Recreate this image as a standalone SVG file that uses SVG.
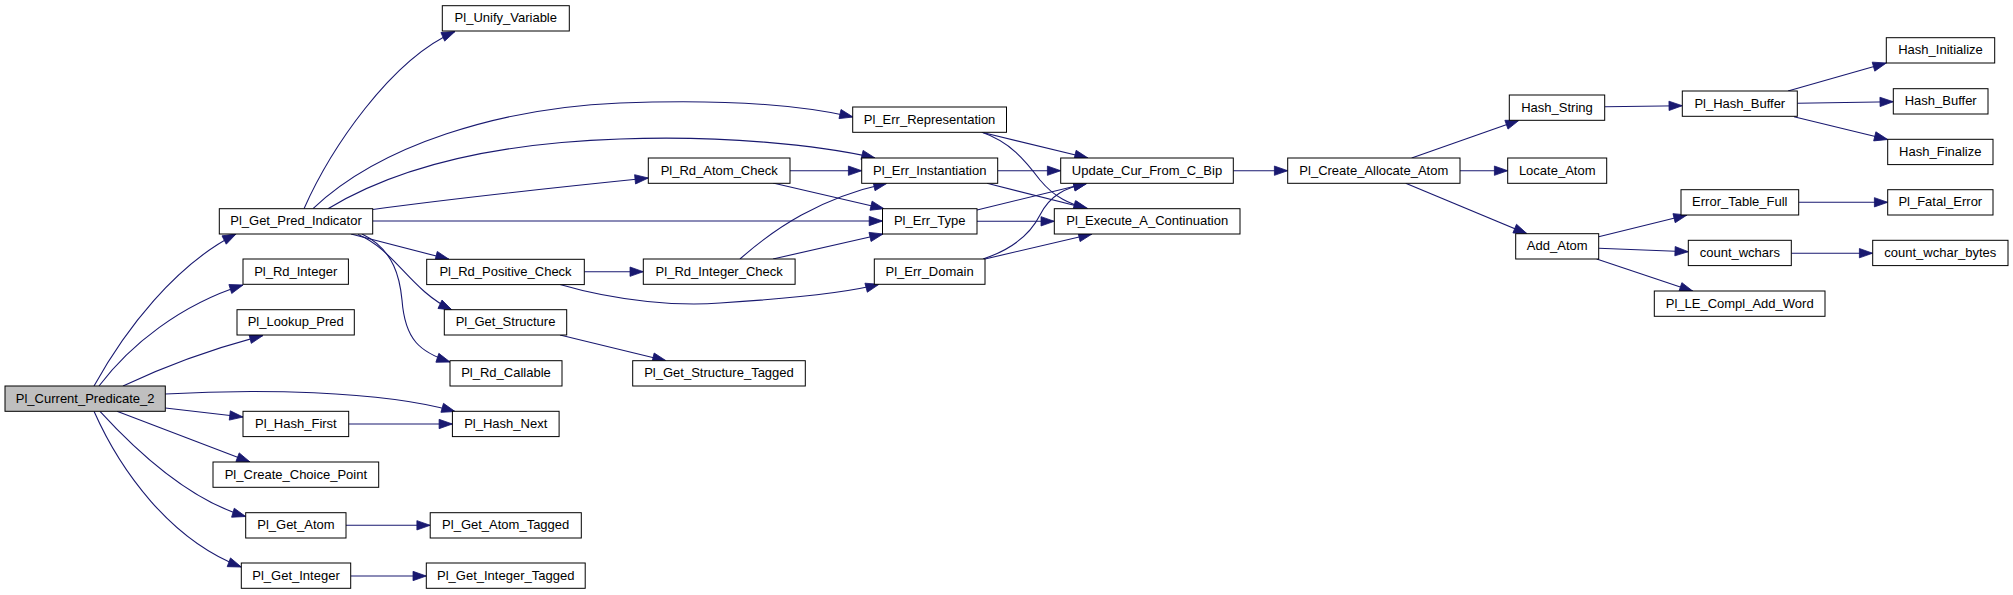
<svg xmlns="http://www.w3.org/2000/svg" width="2013" height="595" viewBox="0 0 2013 595">
<style>
.node rect{fill:#ffffff;stroke:#000000;stroke-width:1}
.node.root rect{fill:#bfbfbf}
.node text{font-family:"Liberation Sans",Arial,Helvetica,sans-serif;font-size:13px;text-anchor:middle;fill:#000000}
.edges path{fill:none;stroke:#191970;stroke-width:1.1;marker-end:url(#arr)}
</style>
<defs>
<marker id="arr" markerUnits="userSpaceOnUse" markerWidth="14" markerHeight="10" viewBox="0 0 14 10" refX="13.3" refY="4.67" orient="auto" overflow="visible">
<path d="M0,0 L13.3,4.67 L0,9.33 z" fill="#191970" stroke="#191970" stroke-width="0.8"/>
</marker>
</defs>
<rect x="0" y="0" width="2013" height="595" fill="#ffffff"/>
<g id="edges" class="edges">
<path d="M94,386 C125,330 175,265 236,234"/>
<path d="M99,386 C130,345 180,305 243,285"/>
<path d="M123,386 C165,366 215,348 263,335.5"/>
<path d="M165.3,394 C250,389 380,390 455,411.5"/>
<path d="M165.3,408 L243,417"/>
<path d="M117,411.3 L250,462"/>
<path d="M100,411.3 C140,455 190,500 245.7,516.5"/>
<path d="M94,411.3 C120,470 170,540 241.3,567"/>
<path d="M304,208.7 C330,150 390,60 455,31.5"/>
<path d="M313,208.7 C380,145 500,108 620,103 C720,99 800,105 853,117"/>
<path d="M328,208.7 C400,165 500,143 620,139 C720,135 820,145 875,158"/>
<path d="M372.7,209.5 C450,199 560,187 648.3,178"/>
<path d="M372.7,221 L882.5,221"/>
<path d="M351,234 L449,259.3"/>
<path d="M358,234.5 C395,250 410,290 452,310"/>
<path d="M362,234 C395,250 400,280 402,300 C405,340 420,352 450,362"/>
<path d="M584.3,271.7 L643.3,271.7"/>
<path d="M560,284.5 C620,302 680,306 720,303 C800,298 850,292 879,284.3"/>
<path d="M560,335 L666,360.7"/>
<path d="M348.7,424 L452.4,424"/>
<path d="M346,525.3 L430.2,525.3"/>
<path d="M350.7,576 L426.3,576"/>
<path d="M790,170.7 L861.7,170.7"/>
<path d="M773,183 L884,208.7"/>
<path d="M740,259 C775,228 820,198 887,183.3"/>
<path d="M773,259 L883,234"/>
<path d="M981.7,132.3 L1088,158"/>
<path d="M982,132.3 C1010,142 1025,160 1040,180 C1055,198 1070,204 1087,208.7"/>
<path d="M998,170.7 L1060.7,170.7"/>
<path d="M987,183.3 L1088,208.7"/>
<path d="M977,210 L1087,183.3"/>
<path d="M977,221.3 L1054.3,221.3"/>
<path d="M983,259 C1010,250 1030,235 1040,215 C1050,195 1065,188 1087,183.3"/>
<path d="M985,259 L1092,234"/>
<path d="M1233.3,170.7 L1287.7,170.7"/>
<path d="M1411.7,158 L1519,120.3"/>
<path d="M1460,170.7 L1507.7,170.7"/>
<path d="M1405.7,183.3 L1527,233.7"/>
<path d="M1604.7,106.7 L1682.3,105.7"/>
<path d="M1788,91 L1886.3,63"/>
<path d="M1797.3,103.3 L1893.3,101.7"/>
<path d="M1794,116.7 L1887.7,139.5"/>
<path d="M1598.7,236.7 L1687,215"/>
<path d="M1598.7,248.3 L1688.3,251.7"/>
<path d="M1596.7,259 L1693,291.3"/>
<path d="M1798.7,202.3 L1887.7,202.3"/>
<path d="M1791.3,253.2 L1872.7,253.2"/>
</g>
<g id="n_current_predicate_2" class="node root"><rect x="5" y="386" width="160.3" height="25.3"/><text x="85.2" y="402.7">Pl_Current_Predicate_2</text></g>
<g id="n_get_pred_indicator" class="node"><rect x="219.3" y="208.7" width="153.4" height="25.3"/><text x="296" y="225.4">Pl_Get_Pred_Indicator</text></g>
<g id="n_rd_integer" class="node"><rect x="243" y="259" width="105.4" height="25.3"/><text x="295.7" y="275.7">Pl_Rd_Integer</text></g>
<g id="n_lookup_pred" class="node"><rect x="237" y="309.7" width="117.3" height="25.3"/><text x="295.7" y="326.4">Pl_Lookup_Pred</text></g>
<g id="n_hash_first" class="node"><rect x="243" y="411.3" width="105.7" height="25.3"/><text x="295.9" y="428">Pl_Hash_First</text></g>
<g id="n_create_choice_point" class="node"><rect x="213" y="462" width="165.7" height="25.3"/><text x="295.9" y="478.7">Pl_Create_Choice_Point</text></g>
<g id="n_get_atom" class="node"><rect x="245.7" y="512.7" width="100.3" height="25.3"/><text x="295.9" y="529.4">Pl_Get_Atom</text></g>
<g id="n_get_integer" class="node"><rect x="241.3" y="563" width="109.4" height="25.3"/><text x="296" y="579.7">Pl_Get_Integer</text></g>
<g id="n_unify_variable" class="node"><rect x="442.3" y="5.7" width="127" height="25.3"/><text x="505.8" y="22.4">Pl_Unify_Variable</text></g>
<g id="n_rd_positive_check" class="node"><rect x="426.7" y="259.3" width="157.6" height="25.3"/><text x="505.5" y="276">Pl_Rd_Positive_Check</text></g>
<g id="n_get_structure" class="node"><rect x="444.3" y="309.7" width="122.4" height="25.3"/><text x="505.5" y="326.4">Pl_Get_Structure</text></g>
<g id="n_rd_callable" class="node"><rect x="450" y="360.7" width="112" height="25.3"/><text x="506" y="377.4">Pl_Rd_Callable</text></g>
<g id="n_hash_next" class="node"><rect x="452.4" y="411.3" width="106.7" height="25.3"/><text x="505.7" y="428">Pl_Hash_Next</text></g>
<g id="n_get_atom_tagged" class="node"><rect x="430.2" y="512.7" width="151.1" height="25.3"/><text x="505.7" y="529.4">Pl_Get_Atom_Tagged</text></g>
<g id="n_get_integer_tagged" class="node"><rect x="426.3" y="563" width="158.9" height="25.3"/><text x="505.7" y="579.7">Pl_Get_Integer_Tagged</text></g>
<g id="n_rd_atom_check" class="node"><rect x="648.3" y="158" width="141.7" height="25.3"/><text x="719.2" y="174.7">Pl_Rd_Atom_Check</text></g>
<g id="n_rd_integer_check" class="node"><rect x="643.3" y="259" width="151.8" height="25.3"/><text x="719.2" y="275.7">Pl_Rd_Integer_Check</text></g>
<g id="n_get_structure_tagged" class="node"><rect x="632.7" y="360.7" width="172.6" height="25.3"/><text x="719" y="377.4">Pl_Get_Structure_Tagged</text></g>
<g id="n_err_representation" class="node"><rect x="852.7" y="107" width="153.8" height="25.3"/><text x="929.6" y="123.7">Pl_Err_Representation</text></g>
<g id="n_err_instantiation" class="node"><rect x="861.7" y="158" width="136" height="25.3"/><text x="929.7" y="174.7">Pl_Err_Instantiation</text></g>
<g id="n_err_type" class="node"><rect x="882.5" y="208.7" width="94.5" height="25.3"/><text x="929.7" y="225.4">Pl_Err_Type</text></g>
<g id="n_err_domain" class="node"><rect x="874.3" y="259" width="110.7" height="25.3"/><text x="929.6" y="275.7">Pl_Err_Domain</text></g>
<g id="n_update_cur_from_c_bip" class="node"><rect x="1060.7" y="158" width="172.6" height="25.3"/><text x="1147" y="174.7">Update_Cur_From_C_Bip</text></g>
<g id="n_execute_a_continuation" class="node"><rect x="1054.3" y="208.7" width="185.7" height="25.3"/><text x="1147.2" y="225.4">Pl_Execute_A_Continuation</text></g>
<g id="n_create_allocate_atom" class="node"><rect x="1287.7" y="158" width="172.3" height="25.3"/><text x="1373.8" y="174.7">Pl_Create_Allocate_Atom</text></g>
<g id="n_hash_string" class="node"><rect x="1509.3" y="95" width="95.4" height="25.3"/><text x="1557" y="111.7">Hash_String</text></g>
<g id="n_locate_atom" class="node"><rect x="1507.7" y="158" width="99" height="25.3"/><text x="1557.2" y="174.7">Locate_Atom</text></g>
<g id="n_add_atom" class="node"><rect x="1515.7" y="233.7" width="83" height="25.3"/><text x="1557.2" y="250.4">Add_Atom</text></g>
<g id="n_hash_buffer_pl" class="node"><rect x="1682.3" y="91" width="115" height="25.3"/><text x="1739.8" y="107.7">Pl_Hash_Buffer</text></g>
<g id="n_error_table_full" class="node"><rect x="1681" y="189.7" width="117.7" height="25.3"/><text x="1739.8" y="206.4">Error_Table_Full</text></g>
<g id="n_count_wchars" class="node"><rect x="1688.3" y="240.3" width="103" height="25.3"/><text x="1739.8" y="257">count_wchars</text></g>
<g id="n_le_compl_add_word" class="node"><rect x="1654.3" y="291" width="170.7" height="25.3"/><text x="1739.7" y="307.7">Pl_LE_Compl_Add_Word</text></g>
<g id="n_hash_initialize" class="node"><rect x="1886.3" y="37.7" width="108.4" height="25.3"/><text x="1940.5" y="54.4">Hash_Initialize</text></g>
<g id="n_hash_buffer" class="node"><rect x="1893.3" y="88.7" width="94.7" height="25.3"/><text x="1940.7" y="105.4">Hash_Buffer</text></g>
<g id="n_hash_finalize" class="node"><rect x="1887.7" y="139.3" width="105.3" height="25.3"/><text x="1940.3" y="156">Hash_Finalize</text></g>
<g id="n_fatal_error" class="node"><rect x="1887.7" y="189.7" width="105.3" height="25.3"/><text x="1940.3" y="206.4">Pl_Fatal_Error</text></g>
<g id="n_count_wchar_bytes" class="node"><rect x="1872.7" y="240.3" width="135.3" height="25.3"/><text x="1940.3" y="257">count_wchar_bytes</text></g>
</svg>
